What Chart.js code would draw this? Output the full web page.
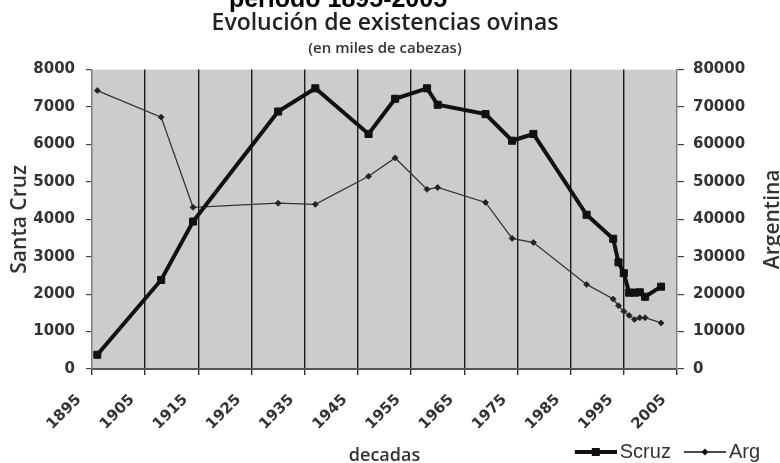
<!DOCTYPE html>
<html>
<head>
<meta charset="utf-8">
<script src="https://cdn.jsdelivr.net/npm/chart.js@4.4.1/dist/chart.umd.min.js"></script>
<style>
  html, body { margin: 0; padding: 0; background: #fff; }
</style>
</head>
<body>
<canvas id="chart" width="780" height="463"></canvas>
<script>
// años de cada registro
const anios = [1896, 1908, 1914, 1930, 1937, 1947, 1952, 1958, 1960, 1969, 1974, 1978, 1988, 1993, 1994, 1995, 1996, 1997, 1998, 1999, 2002];
// Santa Cruz, miles de cabezas (eje izquierdo)
const scruz = [380, 2380, 3940, 6880, 7500, 6280, 7220, 7500, 7060, 6810, 6100, 6280, 4120, 3480, 2850, 2560, 2040, 2040, 2050, 1930, 2200];
// Argentina, miles de cabezas (eje derecho)
const arg = [74400, 67300, 43200, 44300, 44000, 51500, 56400, 48000, 48500, 44500, 34900, 33800, 22600, 18700, 16900, 15400, 14300, 13200, 13700, 13700, 12300];

const decadas = [1895, 1905, 1915, 1925, 1935, 1945, 1955, 1965, 1975, 1985, 1995, 2005];
const ticksScruz = [0, 1000, 2000, 3000, 4000, 5000, 6000, 7000, 8000];
const ticksArg = [0, 10000, 20000, 30000, 40000, 50000, 60000, 70000, 80000];

const tickFont = { family: 'DejaVu Sans', size: 15, weight: 'bold' };
const titleFont = { family: 'Open Sans', size: 21, weight: '600' };

// small line+marker pictures for the legend (10px blank on the left)
function legendIcon(lineW, marker) {
  const c = document.createElement('canvas');
  c.width = 52; c.height = 12;
  const g = c.getContext('2d');
  g.strokeStyle = '#111';
  g.lineWidth = lineW;
  g.beginPath(); g.moveTo(10, 6); g.lineTo(52, 6); g.stroke();
  g.fillStyle = '#111';
  if (marker === 'rect') {
    g.fillRect(27, 2, 8, 8);
  } else {
    g.beginPath();
    g.moveTo(31, 2.5); g.lineTo(34.5, 6); g.lineTo(31, 9.5); g.lineTo(27.5, 6);
    g.closePath(); g.fill();
  }
  return c;
}
const iconos = [legendIcon(4, 'rect'), legendIcon(1.5, 'diamond')];

const extras = {
  id: 'extras',
  beforeDraw(chart) {
    const { ctx, chartArea: a } = chart;
    ctx.save();
    ctx.fillStyle = '#cbccce';
    ctx.fillRect(a.left, a.top, a.right - a.left, a.bottom - a.top);
    ctx.restore();
  },
  afterDraw(chart) {
    const { ctx, chartArea: a } = chart;
    ctx.save();
    // first title line, cut off at the top of the picture
    ctx.fillStyle = '#000';
    ctx.font = 'bold 25px "Liberation Sans"';
    ctx.textAlign = 'center';
    ctx.textBaseline = 'alphabetic';
    ctx.fillText('período 1895-2005', 338, 7);
    // right axis title, reading bottom to top
    ctx.translate(779, (a.top + a.bottom) / 2);
    ctx.rotate(-Math.PI / 2);
    ctx.fillStyle = '#333';
    ctx.font = '600 21px "Open Sans"';
    ctx.fillText('Argentina', 0, 0);
    ctx.restore();
  }
};

new Chart(document.getElementById('chart'), {
  type: 'line',
  data: {
    datasets: [
      {
        label: 'Scruz',
        data: anios.map((x, i) => ({ x: x, y: scruz[i] })),
        yAxisID: 'y',
        borderColor: '#111',
        backgroundColor: '#111',
        borderWidth: 4,
        pointStyle: 'rect',
        pointRadius: 5,
        pointBorderWidth: 1,
        tension: 0
      },
      {
        label: 'Arg',
        data: anios.map((x, i) => ({ x: x, y: arg[i] })),
        yAxisID: 'y2',
        borderColor: '#333',
        backgroundColor: '#222',
        borderWidth: 1.3,
        pointStyle: 'rectRot',
        pointRadius: 3,
        pointBorderWidth: 1,
        tension: 0
      }
    ]
  },
  options: {
    responsive: false,
    animation: false,
    layout: { padding: { right: 10, bottom: -9 } },
    plugins: {
      title: {
        display: true,
        text: 'Evolución de existencias ovinas',
        font: { family: 'Open Sans', size: 23, weight: '600' },
        color: '#222',
        padding: { top: 10, bottom: 0 }
      },
      subtitle: {
        display: true,
        text: '(en miles de cabezas)',
        font: { family: 'Open Sans', size: 15, weight: '600' },
        color: '#333',
        padding: { top: 2, bottom: 12 }
      },
      legend: {
        position: 'bottom',
        align: 'end',
        labels: {
          usePointStyle: true,
          pointStyleWidth: 38,
          padding: 10,
          color: '#333',
          font: { family: 'Liberation Sans', size: 20 },
          generateLabels(chart) {
            const items = Chart.defaults.plugins.legend.labels.generateLabels(chart);
            items.forEach(it => { it.pointStyle = iconos[it.datasetIndex]; });
            return items;
          }
        }
      },
      tooltip: { enabled: false }
    },
    scales: {
      x: {
        type: 'linear',
        min: 1895,
        max: 2005,
        afterBuildTicks: s => { s.ticks = decadas.map(v => ({ value: v })); },
        afterFit: s => { s.height = 63; },
        grid: {
          color: c => (c.tick && (c.tick.value === 1895 || c.tick.value === 2005)) ? 'rgba(0,0,0,0)' : '#1a1a1a',
          lineWidth: 1.4,
          tickLength: 6,
          tickColor: '#333'
        },
        border: { color: '#555', width: 2 },
        ticks: {
          minRotation: 45,
          maxRotation: 45,
          labelOffset: -13,
          padding: 16,
          font: tickFont,
          color: '#333',
          callback: v => String(v)
        },
        title: {
          display: true,
          text: 'decadas',
          font: { family: 'Open Sans', size: 18, weight: '600' },
          color: '#333',
          padding: { top: 0, bottom: -35 }
        }
      },
      y: {
        position: 'left',
        min: 0,
        max: 8000,
        afterBuildTicks: s => { s.ticks = ticksScruz.map(v => ({ value: v })); },
        afterFit: s => { s.width = 92; },
        grid: { drawOnChartArea: false, tickLength: 6, color: '#444', lineWidth: 1.2 },
        border: { color: '#808080', width: 1.5 },
        ticks: { padding: 11, font: tickFont, color: '#333', callback: v => String(v) },
        title: {
          display: true,
          text: 'Santa Cruz',
          font: titleFont,
          color: '#333',
          padding: { top: 7, bottom: 0 }
        }
      },
      y2: {
        position: 'right',
        min: 0,
        max: 80000,
        afterBuildTicks: s => { s.ticks = ticksArg.map(v => ({ value: v })); },
        afterFit: s => { s.width = 93; },
        grid: { drawOnChartArea: false, tickLength: 7, color: '#444', lineWidth: 1.2 },
        border: { color: '#808080', width: 1.5 },
        ticks: { padding: 9, font: tickFont, color: '#333', callback: v => String(v) }
      }
    }
  },
  plugins: [extras]
});
</script>
</body>
</html>
